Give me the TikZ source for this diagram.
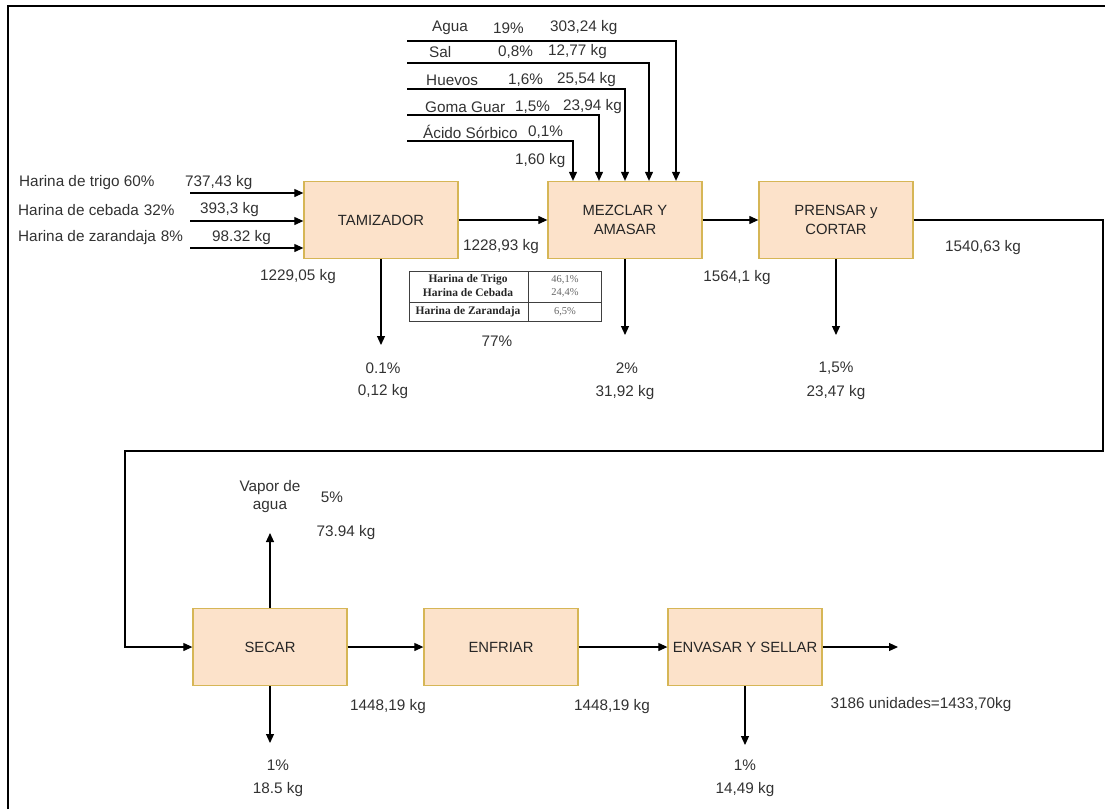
\documentclass[tikz,border=0pt]{standalone}
\usepackage{fontspec}
\setmainfont{Liberation Sans}
\newfontfamily\tabfont{Liberation Serif}
\usetikzlibrary{arrows.meta,calc}
\definecolor{boxfill}{RGB}{252,226,202}
\definecolor{boxborder}{RGB}{214,182,86}
\definecolor{labtxt}{RGB}{50,50,50}
\tikzset{
  proc/.style={draw=boxborder, fill=boxfill, line width=1.3pt, minimum width=154pt, minimum height=77pt, inner sep=2pt, align=center, font=\fontsize{14.8}{19}\selectfont, text=black!85},
  arr/.style={-{Triangle[length=9pt,width=8pt]}, line width=1.1pt, draw=black},
  lab/.style={font=\fontsize{15.3}{18}\selectfont, text=labtxt, inner sep=0pt},
  labw/.style={lab, anchor=west},
  tabl/.style={font=\tabfont\bfseries\fontsize{11.5}{12}\selectfont, text=black!85, inner sep=0pt},
  tabr/.style={font=\tabfont\fontsize{10.5}{12}\selectfont, text=black!60, inner sep=0pt}
}
\begin{document}
\begin{tikzpicture}[x=1pt,y=-1pt]
\useasboundingbox (0,0) rectangle (1108,809);
% frame
\coordinate (f1) at (8,809);
\coordinate (f2) at (8,6);
\coordinate (f3) at (1105,6);
\draw[line width=2.2pt] (f1) -- (f2) -- (f3);

% process boxes
\node[proc] (tam) at (381,220) {TAMIZADOR};
\node[proc] (mez) at (625,220) {MEZCLAR Y\\AMASAR};
\node[proc] (pre) at (836,220) {PRENSAR y\\CORTAR};
\node[proc] (sec) at (270,647) {SECAR};
\node[proc] (enf) at (501,647) {ENFRIAR};
\node[proc] (env) at (745,647) {ENVASAR Y SELLAR};

% flour inputs
\coordinate (h1) at (190,193);
\coordinate (h2) at (190,221);
\coordinate (h3) at (190,248);
\draw[arr] (h1) -- (h1 -| tam.west);
\draw[arr] (h2) -- (h2 -| tam.west);
\draw[arr] (h3) -- (h3 -| tam.west);
\node[labw] (lh1) at (19,183) {Harina de trigo 60\%};
\node[labw] (kh1) at (185,183) {737,43 kg};
\node[labw] (lh2) at (18,210) {Harina de cebada\hspace{5pt}32\%};
\node[labw] (kh2) at (200,210) {393,3 kg};
\node[labw] (lh3) at (18,238) {Harina de zarandaja\hspace{5pt}8\%};
\node[labw] (kh3) at (212,238) {98.32 kg};

% top inputs to mezclar
\coordinate (t1) at (407,41);
\coordinate (t2) at (407,63);
\coordinate (t3) at (407,89);
\coordinate (t4) at (407,115);
\coordinate (t5) at (407,141);
\draw[arr] (t1) -| ([xshift=51pt]mez.north);
\draw[arr] (t2) -| ([xshift=24pt]mez.north);
\draw[arr] (t3) -| (mez.north);
\draw[arr] (t4) -| ([xshift=-26pt]mez.north);
\draw[arr] (t5) -| ([xshift=-52pt]mez.north);
\node[labw] (ag1) at (432,28) {Agua};
\node[labw] (ag2) at (493,28) {19\%};
\node[labw] (ag3) at (550,28) {303,24 kg};
\node[labw] (sa1) at (429,52) {Sal};
\node[labw] (sa2) at (498,52) {0,8\%};
\node[labw] (sa3) at (548,52) {12,77 kg};
\node[labw] (hu1) at (426,80) {Huevos};
\node[labw] (hu2) at (508,80) {1,6\%};
\node[labw] (hu3) at (557,80) {25,54 kg};
\node[labw] (go1) at (425,107) {Goma Guar};
\node[labw] (go2) at (515,107) {1,5\%};
\node[labw] (go3) at (563,107) {23,94 kg};
\node[labw] (ac1) at (423,132) {Ácido Sórbico};
\node[labw] (ac2) at (528,132) {0,1\%};
\node[labw] (ac3) at (515,161) {1,60 kg};

% main flow top row
\draw[arr] (tam) -- (mez);
\draw[arr] (mez) -- (pre);
\node[lab] (k1) at (501,247) {1228,93 kg};
\node[lab] (k0) at (298,277) {1229,05 kg};
\node[lab] (k2) at (737,278) {1564,1 kg};
\node[lab] (k3) at (983,248) {1540,63 kg};

% losses top row
\coordinate (d1) at (381,345);
\coordinate (d2) at (625,335);
\coordinate (d3) at (836,335);
\draw[arr] (tam.south) -- (d1);
\draw[arr] (mez.south) -- (d2);
\draw[arr] (pre.south) -- (d3);
\node[lab] (p1) at (383,368) {0.1\%};
\node[lab] (m1) at (383,392) {0,12 kg};
\node[lab] (p2) at (627,368) {2\%};
\node[lab] (m2) at (625,393) {31,92 kg};
\node[lab] (p3) at (836,368) {1,5\%};
\node[lab] (m3) at (836,393) {23,47 kg};

% table
\coordinate (ta) at (409,271);
\coordinate (tb) at (601,321);
\draw[line width=0.8pt, draw=black!75] (ta) rectangle (tb);
\draw[line width=0.8pt, draw=black!75] (528,271) -- (528,321);
\draw[line width=0.8pt, draw=black!75] (409,302) -- (601,302);
\node[tabl] (r1) at (468,280) {Harina de Trigo};
\node[tabl] (r2) at (468,293) {Harina de Cebada};
\node[tabl] (r3) at (468,312) {Harina de Zarandaja};
\node[tabr] (v1) at (565,280) {46,1\%};
\node[tabr] (v2) at (565,293) {24,4\%};
\node[tabr] (v3) at (565,312) {6,5\%};
\node[lab] (tot) at (497,341) {77\%};

% return line to SECAR
\coordinate (c1) at (1103,451);
\coordinate (c2) at (125,451);
\draw[arr] (pre.east) -| (c1) -| (c2) |- (sec.west);

% bottom row
\draw[arr] (sec) -- (enf);
\draw[arr] (enf) -- (env);
\coordinate (out) at (898,647);
\draw[arr] (env) -- (out);
\coordinate (vap) at (270,533);
\draw[arr] (sec.north) -- (vap);
\coordinate (sd) at (270,743);
\draw[arr] (sec.south) -- (sd);
\coordinate (ed) at (745,745);
\draw[arr] (env.south) -- (ed);

\node[lab, align=center] (va) at (270,497) {Vapor de\\agua};
\node[lab] (va2) at (332,497) {5\%};
\node[lab] (va3) at (346,533) {73.94 kg};
\node[lab] (b1) at (388,707) {1448,19 kg};
\node[lab] (b2) at (612,707) {1448,19 kg};
\node[lab] (b3) at (921,705) {3186 unidades=1433,70kg};
\node[lab] (s1) at (278,765) {1\%};
\node[lab] (s2) at (278,790) {18.5 kg};
\node[lab] (e1) at (745,765) {1\%};
\node[lab] (e2) at (745,790) {14,49 kg};
\end{tikzpicture}
\end{document}
